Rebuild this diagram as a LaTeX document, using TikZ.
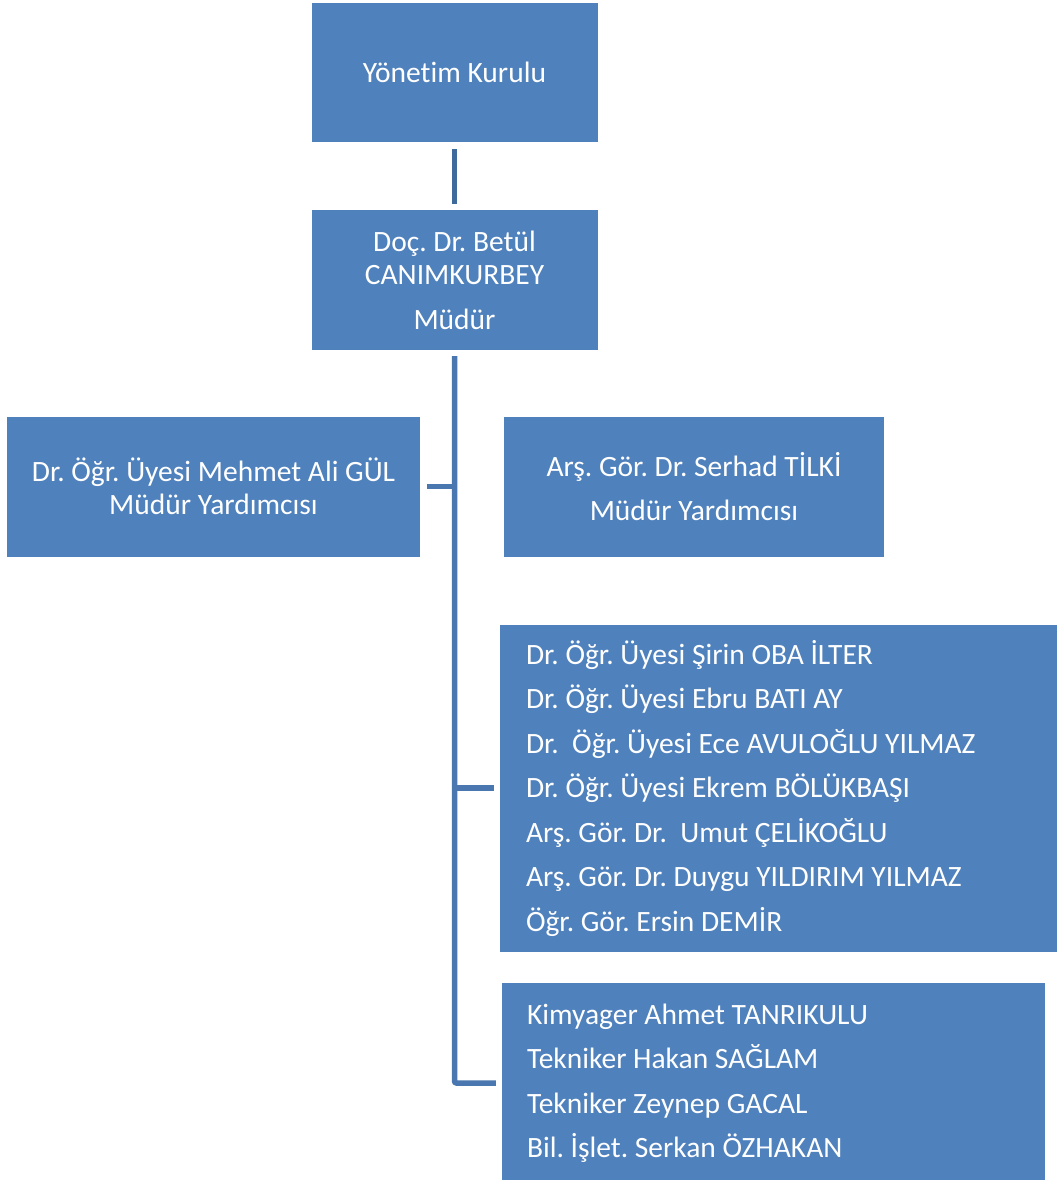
\documentclass[tikz,border=0pt]{standalone}
\usepackage{fontspec}
\setmainfont{Carlito}[Ligatures=NoCommon]
\frenchspacing
\usetikzlibrary{positioning}
\definecolor{boxblue}{HTML}{4F81BD}
\definecolor{linedark}{HTML}{3F6A9C}
\definecolor{lineblue}{HTML}{4A77AF}
\tikzset{
	unit/.style={rectangle, fill=boxblue, text=white, inner sep=0pt, align=center,
		font=\fontsize{29.5}{33}\selectfont},
	listunit/.style={unit, align=flush left},
	link/.style={line width=5.5pt, lineblue},
}

\begin{document}
\begin{tikzpicture}[x=1pt, y=-1pt]
		\useasboundingbox (0,0) rectangle (1057,1180);
		% boxes
		\node[unit, minimum width=286pt, minimum height=139pt] (kurul) at (454.5,72.5) {Yönetim Kurulu};
		\node[unit, minimum width=286pt, minimum height=140pt] (mudur) at (454.5,280) {Doç. Dr. Betül\\CANIMKURBEY\\[12pt]Müdür};
		\node[unit, minimum width=413pt, minimum height=140pt] (yrd1) at (213.5,486.7) {Dr. Öğr. Üyesi Mehmet Ali GÜL\\Müdür Yardımcısı};
		\node[unit, minimum width=380pt, minimum height=140pt] (yrd2) at (694,486.7) {Arş. Gör. Dr. Serhad TİLKİ\\[11pt]Müdür Yardımcısı};
		\node[listunit, inner xsep=26pt, text width=505pt, minimum height=327pt] (akademik) at (778.5,788.2)
			{Dr. Öğr. Üyesi Şirin OBA İLTER\\[11.5pt]
			Dr. Öğr. Üyesi Ebru BATI AY\\[11.5pt]
			Dr.\ \ Öğr. Üyesi Ece AVULOĞLU YILMAZ\\[11.5pt]
			Dr. Öğr. Üyesi Ekrem BÖLÜKBAŞI\\[11.5pt]
			Arş. Gör. Dr.\ \ Umut ÇELİKOĞLU\\[11.5pt]
			Arş. Gör. Dr. Duygu YILDIRIM YILMAZ\\[11.5pt]
			Öğr. Gör. Ersin DEMİR};
		\node[listunit, inner xsep=25pt, text width=493pt, minimum height=200pt] (idari) at (773.5,1083)
			{Kimyager Ahmet TANRIKULU\\[11.5pt]
			Tekniker Hakan SAĞLAM\\[11.5pt]
			Tekniker Zeynep GACAL\\[11.5pt]
			Bil. İşlet. Serkan ÖZHAKAN};
		% connectors
		\draw[link, linedark, shorten <=7pt, shorten >=6pt] (kurul) -- (mudur);
		\draw[link, rounded corners=2pt, shorten <=6pt, shorten >=6pt] (mudur.south) -- (mudur.south |- idari.west) -- (idari.west);
		\draw[link, shorten <=7pt] (yrd1.east) -- (yrd1.east -| mudur.south);
		\draw[link, shorten <=6pt] (akademik.west) -- (akademik.west -| mudur.south);
	\end{tikzpicture}
\end{document}
